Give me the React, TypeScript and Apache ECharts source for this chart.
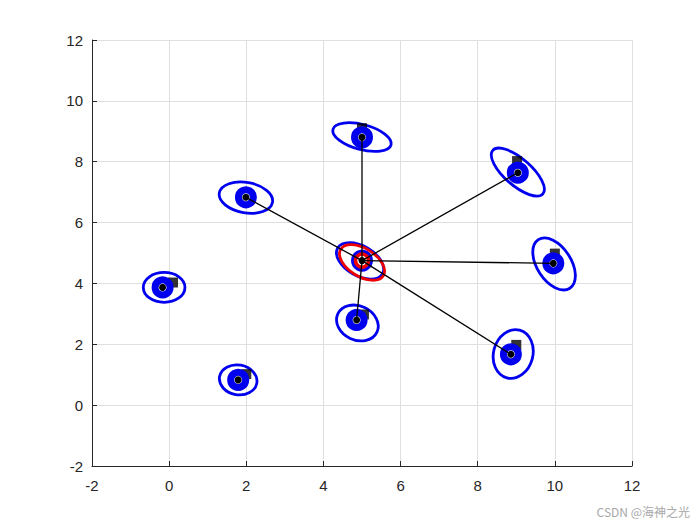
import React, { useEffect, useRef } from "react";
import * as echarts from "echarts";

// estimated node positions (blue markers)
const nodes: number[][] = [
  [5.0, 4.75],
  [5.0, 8.8],
  [9.04, 7.64],
  [1.99, 6.83],
  [-0.17, 3.87],
  [1.79, 0.83],
  [9.96, 4.66],
  [8.86, 1.67],
  [4.86, 2.8],
];
// true positions (black squares)
const truePos: number[][] = [
  [5.0, 4.9],
  [5.0, 9.1],
  [9.02, 8.02],
  [2.0, 6.9],
  [0.1, 4.03],
  [2.0, 1.02],
  [10.0, 4.98],
  [9.0, 1.98],
  [5.05, 2.98],
];
// links from the centre node
const edges: number[][] = [
  [0, 1],
  [0, 2],
  [0, 3],
  [0, 6],
  [0, 7],
  [0, 8],
];
// uncertainty ellipses: cx, cy, semi-axis (x units), semi-axis (y units), rotation deg
const blueEllipses: number[][] = [
  [5.0, 8.81, 0.78, 0.41, -15],
  [9.04, 7.66, 0.86, 0.44, -41],
  [1.99, 6.82, 0.7, 0.5, -10],
  [-0.13, 3.87, 0.54, 0.49, 0],
  [1.79, 0.83, 0.49, 0.49, -10],
  [9.98, 4.64, 0.75, 0.56, -57],
  [8.92, 1.68, 0.51, 0.81, -15],
  [4.88, 2.7, 0.56, 0.56, -25],
  [4.95, 4.74, 0.67, 0.49, -30],
];
const redEllipses: number[][] = [[5.0, 4.69, 0.65, 0.46, -32]];
const anchorNode: number[][] = [nodes[0]];
const ticks = [-2, 0, 2, 4, 6, 8, 10, 12];

const ellipseSeries = (data: number[][], color: string, z: number) => ({
  type: "custom",
  data,
  z,
  silent: true,
  renderItem: (_p: any, api: any) => {
    const c = api.coord([api.value(0), api.value(1)]);
    const s = api.size([api.value(2), api.value(3)]);
    return {
      type: "ellipse",
      x: c[0],
      y: c[1],
      rotation: (api.value(4) * Math.PI) / 180,
      shape: { cx: 0, cy: 0, rx: s[0], ry: s[1] },
      style: { fill: "none", stroke: color, lineWidth: 2.8 },
    };
  },
});

export default function App() {
  const ref = useRef<HTMLDivElement>(null);
  useEffect(() => {
    if (!ref.current) return;
    const chart = echarts.init(ref.current, undefined, { renderer: "svg" });
    const axisCommon = {
      type: "value",
      min: -2,
      max: 12,
      interval: 2,
      axisLine: { show: true, onZero: false, lineStyle: { color: "#262626", width: 1 } },
      axisTick: { show: true, inside: true, length: 5, lineStyle: { color: "#262626" } },
      splitLine: { show: true, lineStyle: { color: "#dfdfdf", width: 1 } },
      axisLabel: {
        color: "#262626",
        fontSize: 15,
        fontFamily: "Liberation Sans, Arial, sans-serif",
        formatter: (v: number) => (ticks.includes(v) ? String(v) : ""),
      },
    };
    const lineSeries = edges.map((e) => ({
      type: "line",
      data: [nodes[e[0]], nodes[e[1]]],
      symbol: "none",
      silent: true,
      z: 6,
      lineStyle: { color: "#000", width: 1.3 },
    }));
    chart.setOption({
      animation: false,
      grid: { left: 92, right: 68, top: 40, bottom: 59, containLabel: false },
      xAxis: { ...axisCommon, axisLabel: { ...axisCommon.axisLabel, margin: 12 } },
      yAxis: { ...axisCommon, axisLabel: { ...axisCommon.axisLabel, margin: 9 } },
      series: [
        ellipseSeries(blueEllipses, "#0000ee", 2),
        {
          type: "scatter",
          data: truePos,
          symbol: "rect",
          symbolSize: 10,
          z: 3,
          silent: true,
          itemStyle: { color: "#000" },
        },
        {
          type: "scatter",
          data: nodes,
          symbol: "circle",
          symbolSize: 15,
          z: 4,
          silent: true,
          itemStyle: { color: "#fff", borderColor: "#0000ee", borderWidth: 7, opacity: 1 },
        },
        ellipseSeries(redEllipses, "#ee0000", 5),
        {
          type: "scatter",
          data: anchorNode,
          symbol: "circle",
          symbolSize: 13,
          z: 5,
          silent: true,
          itemStyle: { color: "#fff", borderColor: "#ee0000", borderWidth: 3.5, opacity: 1 },
        },
        ...lineSeries,
        {
          type: "scatter",
          data: nodes,
          symbol: "circle",
          symbolSize: 7,
          z: 7,
          silent: true,
          itemStyle: { color: "#000", borderWidth: 0, opacity: 1 },
        },
      ],
      graphic: [
        {
          type: "text",
          right: 10,
          top: 505,
          style: {
            text: "CSDN @海神之光",
            fill: "#a8a8a8",
            font: "12px 'Noto Sans CJK SC', sans-serif",
          },
        },
      ],
    });
    return () => chart.dispose();
  }, []);
  return <div ref={ref} style={{ width: 700, height: 525, position: "absolute", left: 0, top: 0, background: "#fff" }} />;
}
